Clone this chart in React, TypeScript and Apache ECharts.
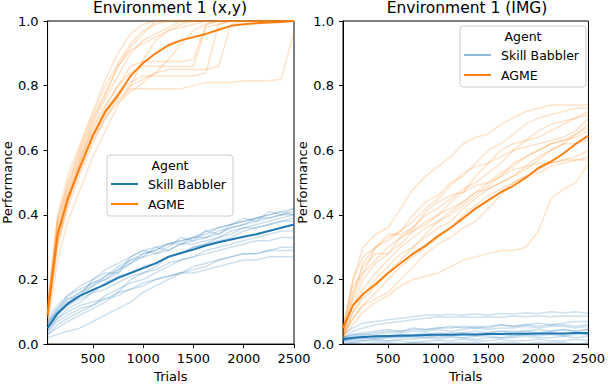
import React, { useEffect, useRef } from "react";
import * as echarts from "echarts";

const TRIALS = [50, 150, 250, 375, 500, 625, 750, 875, 1000, 1125, 1250, 1375, 1500, 1625, 1750, 1875, 2000, 2125, 2250, 2375, 2500];
const X_TICKS = [500, 1000, 1500, 2000, 2500];
const Y_TICKS = [0, 0.2, 0.4, 0.6, 0.8, 1.0];
const TITLES = ["Environment 1 (x,y)", "Environment 1 (IMG)"];
const AGENTS = ["Skill Babbler", "AGME"];

// Environment 1 (x,y) — Skill Babbler runs
const XY_SB_RUNS = [
  [0.08, 0.12, 0.15, 0.17, 0.19, 0.21, 0.23, 0.26, 0.28, 0.29, 0.31, 0.32, 0.33, 0.35, 0.36, 0.37, 0.38, 0.39, 0.4, 0.41, 0.42],
  [0.06, 0.1, 0.13, 0.16, 0.19, 0.2, 0.23, 0.25, 0.27, 0.3, 0.31, 0.31, 0.33, 0.34, 0.36, 0.37, 0.38, 0.39, 0.39, 0.4, 0.41],
  [0.07, 0.11, 0.14, 0.16, 0.18, 0.21, 0.24, 0.26, 0.27, 0.28, 0.29, 0.31, 0.32, 0.33, 0.34, 0.36, 0.37, 0.38, 0.39, 0.4, 0.4],
  [0.05, 0.09, 0.12, 0.15, 0.18, 0.2, 0.22, 0.25, 0.28, 0.29, 0.31, 0.32, 0.33, 0.33, 0.35, 0.36, 0.37, 0.39, 0.4, 0.41, 0.4],
  [0.06, 0.1, 0.12, 0.14, 0.16, 0.19, 0.21, 0.22, 0.24, 0.25, 0.27, 0.28, 0.3, 0.31, 0.32, 0.33, 0.35, 0.36, 0.37, 0.38, 0.38],
  [0.04, 0.08, 0.11, 0.13, 0.16, 0.17, 0.19, 0.21, 0.22, 0.23, 0.25, 0.26, 0.27, 0.29, 0.3, 0.31, 0.32, 0.33, 0.34, 0.35, 0.35],
  [0.03, 0.06, 0.08, 0.1, 0.12, 0.15, 0.17, 0.19, 0.2, 0.22, 0.24, 0.26, 0.27, 0.28, 0.29, 0.3, 0.31, 0.32, 0.32, 0.33, 0.33],
  [0.05, 0.08, 0.1, 0.12, 0.13, 0.14, 0.15, 0.17, 0.18, 0.2, 0.21, 0.22, 0.23, 0.24, 0.26, 0.27, 0.28, 0.28, 0.29, 0.3, 0.3],
  [0.02, 0.03, 0.04, 0.05, 0.07, 0.09, 0.11, 0.13, 0.16, 0.18, 0.2, 0.22, 0.24, 0.25, 0.26, 0.27, 0.28, 0.28, 0.29, 0.29, 0.29],
  [0.04, 0.07, 0.09, 0.11, 0.12, 0.14, 0.16, 0.17, 0.19, 0.2, 0.21, 0.22, 0.22, 0.23, 0.24, 0.25, 0.26, 0.26, 0.27, 0.27, 0.27],
  [0.07, 0.1, 0.14, 0.15, 0.2, 0.22, 0.22, 0.27, 0.29, 0.28, 0.3, 0.33, 0.32, 0.35, 0.34, 0.37, 0.39, 0.38, 0.41, 0.4, 0.42],
  [0.03, 0.05, 0.07, 0.09, 0.11, 0.13, 0.16, 0.2, 0.22, 0.24, 0.27, 0.28, 0.3, 0.31, 0.33, 0.35, 0.36, 0.37, 0.38, 0.39, 0.4],
  [0.06, 0.11, 0.15, 0.18, 0.2, 0.23, 0.25, 0.27, 0.29, 0.3, 0.29, 0.31, 0.31, 0.32, 0.33, 0.34, 0.36, 0.36, 0.37, 0.38, 0.39],
];
const XY_SB_MEAN = [0.05, 0.095, 0.125, 0.15, 0.168, 0.185, 0.205, 0.22, 0.235, 0.25, 0.27, 0.282, 0.293, 0.305, 0.315, 0.324, 0.332, 0.34, 0.35, 0.36, 0.37];

// Environment 1 (x,y) — AGME runs
const XY_AGME_RUNS = [
  [0.1, 0.38, 0.5, 0.61, 0.71, 0.8, 0.87, 0.93, 0.97, 0.99, 1, 1, 1, 1, 1, 1, 1, 1, 1, 1, 1],
  [0.08, 0.3, 0.42, 0.53, 0.62, 0.7, 0.76, 0.79, 0.79, 0.79, 0.79, 0.79, 0.8, 0.81, 0.81, 0.81, 0.815, 0.815, 0.815, 0.82, 0.97],
  [0.12, 0.35, 0.45, 0.56, 0.65, 0.72, 0.78, 0.81, 0.83, 0.83, 0.83, 0.83, 0.83, 0.84, 0.99, 1, 1, 1, 1, 1, 1],
  [0.09, 0.32, 0.43, 0.57, 0.66, 0.73, 0.8, 0.84, 0.86, 0.86, 0.86, 0.86, 0.86, 0.98, 0.99, 1, 1, 1, 1, 1, 1],
  [0.1, 0.34, 0.46, 0.58, 0.67, 0.74, 0.8, 0.86, 0.875, 0.875, 0.875, 0.875, 0.88, 0.99, 1, 1, 1, 1, 1, 1, 1],
  [0.11, 0.37, 0.48, 0.6, 0.7, 0.77, 0.86, 0.92, 0.96, 1, 1, 1, 1, 1, 1, 1, 1, 1, 1, 1, 1],
  [0.1, 0.36, 0.47, 0.57, 0.68, 0.76, 0.83, 0.9, 0.94, 0.96, 0.98, 1, 1, 1, 1, 1, 1, 1, 1, 1, 1],
  [0.08, 0.31, 0.44, 0.55, 0.64, 0.71, 0.77, 0.8, 0.82, 0.84, 0.85, 0.85, 0.85, 0.85, 0.86, 0.99, 1, 1, 1, 1, 1],
  [0.13, 0.4, 0.52, 0.62, 0.72, 0.82, 0.9, 0.96, 0.99, 1, 1, 1, 1, 1, 1, 1, 1, 1, 1, 1, 1],
  [0.06, 0.26, 0.38, 0.48, 0.58, 0.66, 0.74, 0.8, 0.88, 0.94, 0.97, 0.98, 0.99, 1, 1, 1, 1, 1, 1, 1, 1],
  [0.09, 0.33, 0.44, 0.54, 0.63, 0.7, 0.75, 0.78, 0.81, 0.84, 0.88, 0.93, 0.97, 0.99, 1, 1, 1, 1, 1, 1, 1],
  [0.11, 0.39, 0.49, 0.59, 0.69, 0.78, 0.86, 0.91, 0.93, 0.95, 0.97, 0.99, 1, 1, 1, 1, 1, 1, 1, 1, 1],
];
const XY_AGME_MEAN = [0.09, 0.34, 0.45, 0.55, 0.645, 0.72, 0.77, 0.83, 0.87, 0.9, 0.925, 0.94, 0.95, 0.96, 0.973, 0.985, 0.99, 0.993, 0.995, 0.997, 1.0];

// Environment 1 (IMG) — Skill Babbler runs
const IMG_SB_RUNS = [
  [0.03, 0.05, 0.065, 0.07, 0.075, 0.08, 0.085, 0.09, 0.09, 0.092, 0.09, 0.093, 0.09, 0.095, 0.093, 0.097, 0.095, 0.1, 0.097, 0.1, 0.095],
  [0.02, 0.04, 0.05, 0.06, 0.065, 0.07, 0.075, 0.08, 0.085, 0.083, 0.085, 0.082, 0.085, 0.083, 0.087, 0.085, 0.088, 0.085, 0.087, 0.086, 0.087],
  [0.02, 0.03, 0.03, 0.035, 0.04, 0.04, 0.045, 0.045, 0.05, 0.05, 0.055, 0.05, 0.055, 0.06, 0.055, 0.06, 0.065, 0.06, 0.065, 0.07, 0.07],
  [0.02, 0.025, 0.03, 0.03, 0.035, 0.035, 0.04, 0.04, 0.045, 0.04, 0.045, 0.05, 0.045, 0.05, 0.05, 0.055, 0.05, 0.055, 0.055, 0.05, 0.055],
  [0.015, 0.02, 0.02, 0.025, 0.025, 0.03, 0.03, 0.035, 0.03, 0.035, 0.035, 0.04, 0.035, 0.04, 0.04, 0.04, 0.045, 0.04, 0.045, 0.04, 0.045],
  [0.01, 0.015, 0.015, 0.02, 0.02, 0.02, 0.025, 0.02, 0.025, 0.025, 0.03, 0.025, 0.03, 0.03, 0.025, 0.03, 0.03, 0.035, 0.03, 0.035, 0.03],
  [0.01, 0.01, 0.01, 0.015, 0.01, 0.015, 0.015, 0.02, 0.015, 0.02, 0.02, 0.015, 0.02, 0.02, 0.02, 0.025, 0.02, 0.02, 0.025, 0.02, 0.025],
  [0.005, 0.005, 0.01, 0.01, 0.01, 0.01, 0.005, 0.01, 0.01, 0.01, 0.015, 0.01, 0.01, 0.015, 0.01, 0.01, 0.015, 0.01, 0.01, 0.015, 0.01],
  [0.02, 0.02, 0.025, 0.02, 0.025, 0.03, 0.025, 0.03, 0.035, 0.03, 0.035, 0.03, 0.035, 0.04, 0.035, 0.04, 0.035, 0.04, 0.045, 0.04, 0.045],
  [0.0, 0.005, 0.0, 0.005, 0.005, 0.0, 0.005, 0.005, 0.0, 0.005, 0.005, 0.005, 0.0, 0.005, 0.005, 0.0, 0.005, 0.005, 0.005, 0.0, 0.005],
  [0.02, 0.03, 0.035, 0.04, 0.045, 0.04, 0.05, 0.045, 0.05, 0.055, 0.05, 0.055, 0.05, 0.06, 0.055, 0.06, 0.055, 0.06, 0.06, 0.055, 0.06],
  [0.01, 0.015, 0.02, 0.015, 0.02, 0.025, 0.02, 0.025, 0.02, 0.025, 0.02, 0.025, 0.025, 0.02, 0.025, 0.03, 0.025, 0.03, 0.025, 0.03, 0.03],
];
const IMG_SB_MEAN = [0.015, 0.02, 0.022, 0.024, 0.025, 0.026, 0.027, 0.028, 0.029, 0.029, 0.03, 0.03, 0.031, 0.031, 0.032, 0.032, 0.033, 0.033, 0.033, 0.034, 0.034];

// Environment 1 (IMG) — AGME runs
const IMG_AGME_RUNS = [
  [0.05, 0.2, 0.3, 0.34, 0.36, 0.42, 0.48, 0.52, 0.55, 0.58, 0.62, 0.64, 0.65, 0.68, 0.7, 0.72, 0.73, 0.74, 0.74, 0.74, 0.74],
  [0.03, 0.15, 0.25, 0.3, 0.33, 0.35, 0.4, 0.44, 0.46, 0.5, 0.52, 0.56, 0.6, 0.62, 0.65, 0.68, 0.7, 0.71, 0.72, 0.73, 0.73],
  [0.04, 0.12, 0.2, 0.25, 0.28, 0.33, 0.36, 0.4, 0.42, 0.45, 0.48, 0.5, 0.53, 0.56, 0.6, 0.63, 0.66, 0.68, 0.69, 0.7, 0.71],
  [0.02, 0.1, 0.15, 0.2, 0.24, 0.28, 0.3, 0.33, 0.36, 0.38, 0.42, 0.45, 0.48, 0.5, 0.52, 0.55, 0.58, 0.6, 0.62, 0.65, 0.68],
  [0.03, 0.08, 0.12, 0.16, 0.2, 0.24, 0.27, 0.3, 0.33, 0.36, 0.4, 0.43, 0.46, 0.48, 0.5, 0.52, 0.54, 0.56, 0.57, 0.58, 0.6],
  [0.02, 0.06, 0.1, 0.13, 0.15, 0.18, 0.2, 0.21, 0.22, 0.24, 0.26, 0.27, 0.28, 0.29, 0.29, 0.3, 0.35, 0.45, 0.48, 0.5, 0.56],
  [0.05, 0.18, 0.22, 0.26, 0.3, 0.33, 0.35, 0.38, 0.4, 0.42, 0.44, 0.47, 0.5, 0.52, 0.54, 0.55, 0.56, 0.56, 0.57, 0.57, 0.57],
  [0.04, 0.2, 0.27, 0.3, 0.32, 0.35, 0.38, 0.42, 0.45, 0.49, 0.53, 0.55, 0.56, 0.58, 0.6, 0.61, 0.62, 0.63, 0.64, 0.66, 0.7],
  [0.02, 0.1, 0.14, 0.18, 0.22, 0.26, 0.3, 0.34, 0.38, 0.4, 0.43, 0.46, 0.49, 0.52, 0.56, 0.58, 0.6, 0.62, 0.63, 0.64, 0.66],
  [0.03, 0.12, 0.17, 0.22, 0.26, 0.3, 0.33, 0.36, 0.38, 0.41, 0.44, 0.47, 0.48, 0.5, 0.52, 0.54, 0.57, 0.6, 0.62, 0.62, 0.63],
  [0.03, 0.14, 0.22, 0.3, 0.34, 0.34, 0.36, 0.41, 0.44, 0.46, 0.47, 0.49, 0.5, 0.53, 0.55, 0.58, 0.6, 0.62, 0.63, 0.65, 0.67],
  [0.02, 0.08, 0.12, 0.14, 0.16, 0.2, 0.24, 0.28, 0.31, 0.33, 0.36, 0.38, 0.42, 0.46, 0.5, 0.52, 0.53, 0.55, 0.56, 0.57, 0.58],
  [0.04, 0.16, 0.24, 0.28, 0.28, 0.31, 0.35, 0.37, 0.4, 0.44, 0.47, 0.52, 0.56, 0.6, 0.62, 0.63, 0.64, 0.66, 0.68, 0.7, 0.72],
];
const IMG_AGME_MEAN = [0.05, 0.12, 0.155, 0.185, 0.22, 0.25, 0.28, 0.305, 0.335, 0.36, 0.39, 0.42, 0.445, 0.47, 0.49, 0.515, 0.545, 0.565, 0.59, 0.62, 0.645];

const BLUE = "#1f77b4";
const ORANGE = "#ff7f0e";
const FONT = "'DejaVu Sans', Verdana, sans-serif";
const TICK_SIZE = 13;
const NAME_SIZE = 13;
const LEGEND_SIZE = 12.5;
const TITLE_SIZE = 15.5;

const GRIDS = [
  { left: 46, top: 21, width: 248, height: 330 },
  { left: 343, top: 21, width: 248, height: 330 },
];

function toPairs(vals: number[]) {
  return TRIALS.map((t, i) => [t, vals[i]]);
}

function runSeries(idx: number, runs: number[][], color: string, name: string) {
  return runs.map((r) => ({
    type: "line",
    name,
    xAxisIndex: idx,
    yAxisIndex: idx,
    data: toPairs(r),
    showSymbol: false,
    silent: true,
    lineStyle: { color, width: 1.5, opacity: 0.22 },
    z: 2,
  }));
}

function meanSeries(idx: number, vals: number[], color: string, name: string) {
  return {
    type: "line",
    name,
    xAxisIndex: idx,
    yAxisIndex: idx,
    data: toPairs(vals),
    showSymbol: false,
    silent: true,
    lineStyle: { color, width: 2, opacity: 1 },
    z: 3,
  };
}

function legend(x: number, y: number, thinFirst: boolean) {
  const w = 126;
  const h = 61;
  const font = `${LEGEND_SIZE}px ${FONT}`;
  return [
    {
      type: "rect",
      shape: { x, y, width: w, height: h, r: 3 },
      style: { fill: "rgba(255,255,255,0.8)", stroke: "#cccccc", lineWidth: 1 },
      z: 100,
    },
    {
      type: "text",
      x: x + w / 2,
      y: y + 10,
      style: { text: "Agent", fill: "#000", font, textAlign: "center", textVerticalAlign: "middle" },
      z: 101,
    },
    {
      type: "line",
      shape: { x1: x + 4, y1: y + 29, x2: x + 31, y2: y + 29 },
      style: { stroke: BLUE, lineWidth: thinFirst ? 1 : 2 },
      z: 101,
    },
    {
      type: "text",
      x: x + 41,
      y: y + 29,
      style: { text: AGENTS[0], fill: "#000", font, textAlign: "left", textVerticalAlign: "middle" },
      z: 101,
    },
    {
      type: "line",
      shape: { x1: x + 4, y1: y + 49, x2: x + 31, y2: y + 49 },
      style: { stroke: ORANGE, lineWidth: 2 },
      z: 101,
    },
    {
      type: "text",
      x: x + 41,
      y: y + 49,
      style: { text: AGENTS[1], fill: "#000", font, textAlign: "left", textVerticalAlign: "middle" },
      z: 101,
    },
  ];
}

export default function App() {
  const ref = useRef<HTMLDivElement>(null);
  useEffect(() => {
    if (!ref.current) return;
    const chart = echarts.init(ref.current, null, { renderer: "svg" });
    const xAxis = GRIDS.map((_, i) => ({
      type: "value",
      gridIndex: i,
      min: 50,
      max: 2500,
      name: "Trials",
      nameLocation: "middle",
      nameGap: 25,
      nameTextStyle: { fontFamily: FONT, fontSize: NAME_SIZE, color: "#000" },
      axisLine: { show: true, lineStyle: { color: "#000", width: 1 } },
      axisTick: { show: true, length: 4, lineStyle: { color: "#000" }, customValues: X_TICKS },
      axisLabel: {
        fontFamily: FONT,
        fontSize: TICK_SIZE,
        color: "#000",
        margin: 8,
        customValues: X_TICKS,
        formatter: (v: number) => String(v),
      },
      splitLine: { show: false },
    }));
    const yAxis = GRIDS.map((_, i) => ({
      type: "value",
      gridIndex: i,
      min: 0,
      max: 1,
      name: "Performance",
      nameLocation: "middle",
      nameGap: i === 0 ? 33 : 34,
      nameTextStyle: { fontFamily: FONT, fontSize: NAME_SIZE, color: "#000" },
      axisLine: { show: true, lineStyle: { color: "#000", width: 1 } },
      axisTick: { show: true, length: 4, lineStyle: { color: "#000" }, customValues: Y_TICKS },
      axisLabel: {
        fontFamily: FONT,
        fontSize: TICK_SIZE,
        color: "#000",
        margin: 9,
        customValues: Y_TICKS,
        formatter: (v: number) => v.toFixed(1),
      },
      splitLine: { show: false },
    }));
    const option = {
      animation: false,
      backgroundColor: "#fff",
      title: GRIDS.map((g, i) => ({
        text: TITLES[i],
        left: g.left + g.width / 2,
        top: 0,
        padding: 0,
        textAlign: "center",
        textStyle: { fontFamily: FONT, fontSize: TITLE_SIZE, fontWeight: "normal", color: "#000" },
      })),
      grid: GRIDS.map((g) => ({ ...g, show: true, borderColor: "#000", borderWidth: 1, backgroundColor: "transparent" })),
      xAxis,
      yAxis,
      series: [
        ...runSeries(0, XY_SB_RUNS, BLUE, AGENTS[0]),
        ...runSeries(0, XY_AGME_RUNS, ORANGE, AGENTS[1]),
        meanSeries(0, XY_SB_MEAN, BLUE, AGENTS[0]),
        meanSeries(0, XY_AGME_MEAN, ORANGE, AGENTS[1]),
        ...runSeries(1, IMG_SB_RUNS, BLUE, AGENTS[0]),
        ...runSeries(1, IMG_AGME_RUNS, ORANGE, AGENTS[1]),
        meanSeries(1, IMG_SB_MEAN, BLUE, AGENTS[0]),
        meanSeries(1, IMG_AGME_MEAN, ORANGE, AGENTS[1]),
      ],
      graphic: [...legend(107, 155, false), ...legend(460, 26, true)],
    };
    chart.setOption(option as any);
    return () => chart.dispose();
  }, []);
  return <div ref={ref} style={{ width: 608, height: 388, position: "absolute", left: 0, top: 0 }} />;
}
